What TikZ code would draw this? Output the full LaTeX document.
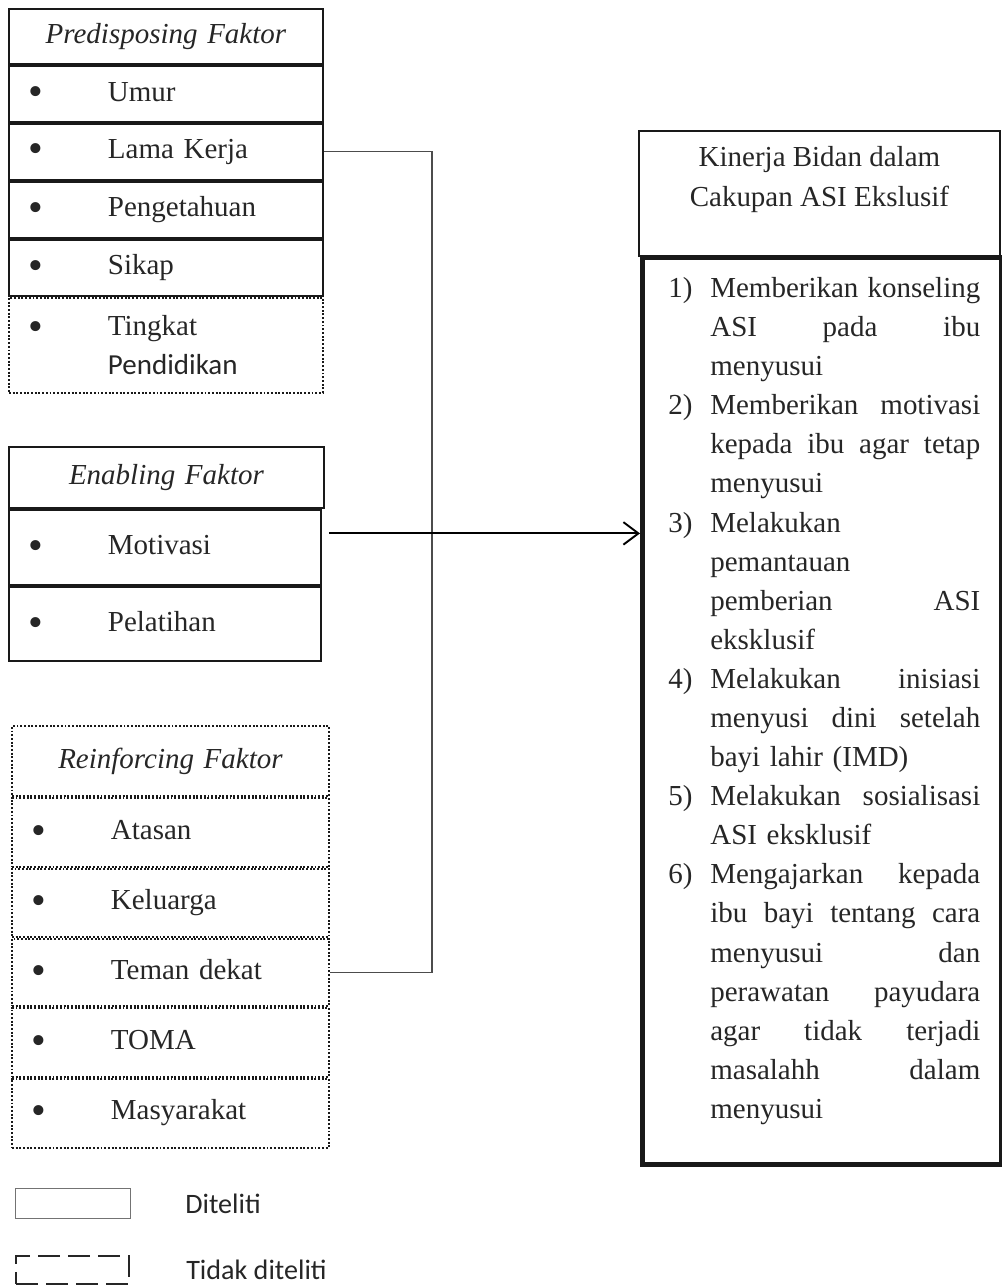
\documentclass[tikz,border=0pt]{standalone}
\usepackage{fontspec}
\setmainfont{Liberation Serif}
\newfontfamily\calibri{Carlito}
\usetikzlibrary{arrows.meta, positioning}

% isi baris kiri dan daftar kanan
\newcommand{\titik}{\hspace*{-0.08em}\raisebox{-0.16em}{\scalebox{1.45}{\textbullet}}}
\newcommand{\butir}[1]{\makebox[1.54cm][l]{\titik}#1}
\newcommand{\sambung}{\hspace*{1.54cm}}
\newcommand{\nomor}[1]{\makebox[0.84cm][l]{#1)}}
\newcommand{\lanjut}{\hspace*{0.84cm}}
\newcommand{\rata}[1]{\makebox[5.4cm][s]{\spaceskip=0pt\xspaceskip=0pt #1}}

\begin{document}
\begin{tikzpicture}[
    x=0.02cm, y=-0.02cm,
    font=\fontsize{16.5}{22.25}\selectfont,
    text=black!85,
    cell/.style={draw=black!90, line width=1.1pt, anchor=north west,
        inner xsep=0.44cm, inner ysep=0pt, align=left},
    head/.style={cell, align=center, font=\fontsize{16.5}{22.25}\selectfont\itshape},
    pcell/.style={cell, text width=5.4cm},
    ecell/.style={cell, text width=5.36cm},
    rcell/.style={cell, densely dotted, text width=5.46cm},
    link/.style={draw=black!70, line width=0.6pt},
    arr/.style={line width=1.1pt, -{Straight Barb[length=0.3cm, width=0.45cm]}},
    ket/.style={font=\calibri\fontsize{16}{20}\selectfont, inner sep=0pt}
]
\useasboundingbox (0,0) rectangle (1001,1285);

% Predisposing Faktor
\node[head, text width=5.4cm, minimum height=1.1cm] (hd1) at (8,8) {Predisposing Faktor};
\node[pcell, minimum height=1.12cm] (umur) at (hd1.south west) {\butir{Umur}};
\node[pcell, minimum height=1.12cm] (lama) at (umur.south west) {\butir{Lama Kerja}};
\node[pcell, minimum height=1.12cm] (tahu) at (lama.south west) {\butir{Pengetahuan}};
\node[pcell, minimum height=1.12cm] (sikap) at (tahu.south west) {\butir{Sikap}};
\node[pcell, densely dotted, minimum height=1.9cm] (didik) at (sikap.south west)
    {\butir{Tingkat}\\\sambung{\calibri Pendidikan}};

% Enabling Faktor
\node[head, text width=5.42cm, minimum height=1.22cm] (hd2) at (8,446) {Enabling Faktor};
\node[ecell, minimum height=1.5cm] (mot) at (hd2.south west) {\butir{Motivasi}};
\node[ecell, minimum height=1.48cm] (latih) at (mot.south west) {\butir{Pelatihan}};

% Reinforcing Faktor
\node[head, densely dotted, text width=5.46cm, minimum height=1.4cm] (hd3) at (11,725) {Reinforcing Faktor};
\node[rcell, minimum height=1.38cm] (atasan) at (hd3.south west) {\butir{Atasan}};
\node[rcell, minimum height=1.36cm] (kel) at (atasan.south west) {\butir{Keluarga}};
\node[rcell, minimum height=1.34cm] (teman) at (kel.south west) {\butir{Teman dekat}};
\node[rcell, minimum height=1.38cm] (toma) at (teman.south west) {\butir{TOMA}};
\node[rcell, minimum height=1.38cm] (masy) at (toma.south west) {\butir{Masyarakat}};

% Kinerja Bidan
\node[draw=black!90, line width=1.1pt, anchor=north west, minimum width=7.22cm,
    minimum height=2.5cm, align=center] (judul) at (638,130)
    {Kinerja Bidan dalam\\Cakupan ASI Ekslusif\\[-0.1cm]\mbox{}};
\node[draw=black!90, line width=2.8pt, anchor=north west, minimum width=7.18cm,
    minimum height=18.14cm] (isi) at (640,255) {};
\node[anchor=north west, inner sep=0pt, align=left, text width=6.24cm] (tugas) at (668,277) {%
\nomor{1}\rata{Memberikan konseling}\\
\lanjut\rata{ASI pada ibu}\\
\lanjut menyusui\\
\nomor{2}\rata{Memberikan motivasi}\\
\lanjut\rata{kepada ibu agar tetap}\\
\lanjut menyusui\\
\nomor{3}Melakukan\\
\lanjut pemantauan\\
\lanjut\rata{pemberian ASI}\\
\lanjut eksklusif\\
\nomor{4}\rata{Melakukan inisiasi}\\
\lanjut\rata{menyusi dini setelah}\\
\lanjut bayi lahir (IMD)\\
\nomor{5}\rata{Melakukan sosialisasi}\\
\lanjut ASI eksklusif\\
\nomor{6}\rata{Mengajarkan kepada}\\
\lanjut\rata{ibu bayi tentang cara}\\
\lanjut\rata{menyusui dan}\\
\lanjut\rata{perawatan payudara}\\
\lanjut\rata{agar tidak terjadi}\\
\lanjut\rata{masalahh dalam}\\
\lanjut menyusui};

% Keterangan
\node[draw=black!55, line width=0.6pt, anchor=north west, minimum width=2.3cm,
    minimum height=0.6cm, inner sep=0pt] (leg1) at (15,1188) {};
\node[ket, right=1.08cm of leg1] (ket1) {Diteliti};
\node[draw=black!85, line width=1.1pt, dash pattern=on 0.44cm off 0.16cm, anchor=north west,
    minimum width=2.26cm, minimum height=0.56cm, inner sep=0pt] (leg2) at (15,1255) {};
\node[ket, right=1.12cm of leg2] (ket2) {Tidak diteliti};

% Hubungan
\coordinate (belok) at (432,0);
\draw[link] (lama.east) -- (lama.east -| belok) |- (teman.east);
\draw[arr, shorten <=0.14cm] ([yshift=0.28cm]mot.east) -- ([yshift=0.28cm]mot.east -| isi.west);

\end{tikzpicture}
\end{document}
